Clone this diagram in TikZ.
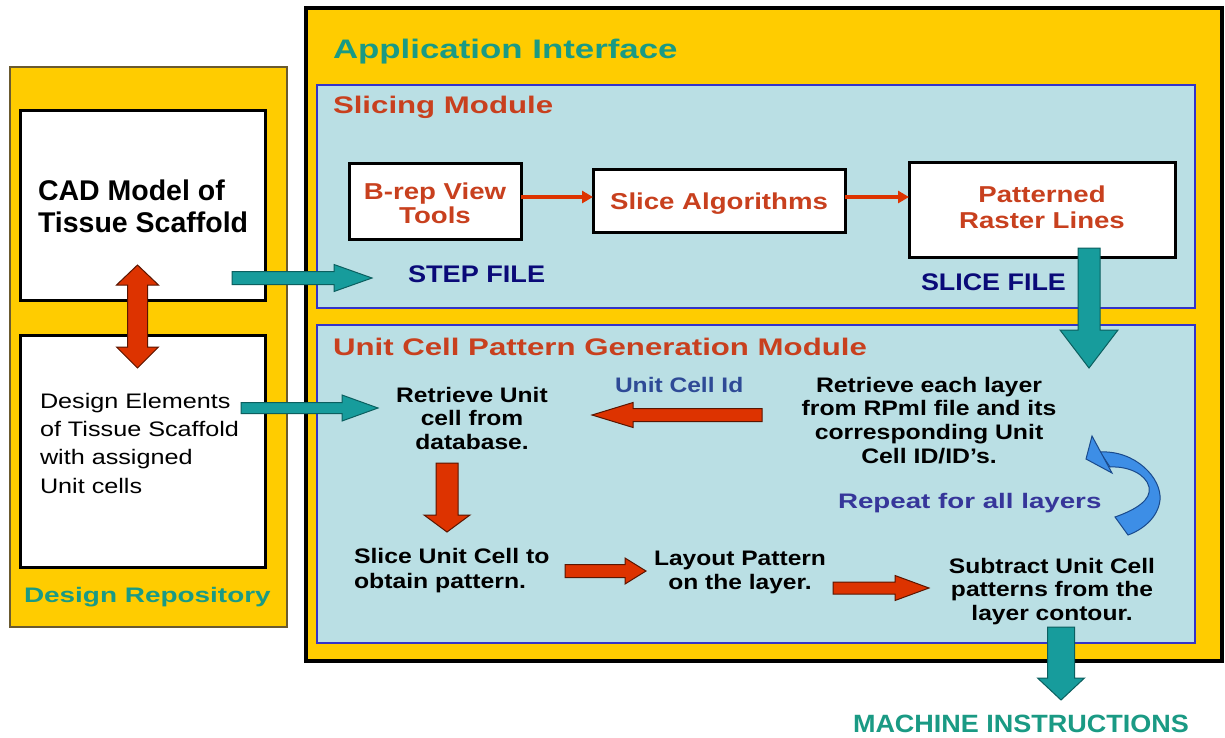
\documentclass[tikz,border=0pt]{standalone}
\usepackage{fontspec}
\setmainfont{Liberation Sans}
\usepackage{graphicx}
\usetikzlibrary{arrows.meta,calc}
\definecolor{gold}{HTML}{FFCC00}
\definecolor{lblue}{HTML}{BADFE4}
\definecolor{modborder}{HTML}{3434C8}
\definecolor{tealtxt}{HTML}{1A9A84}
\definecolor{redtxt}{HTML}{C8401E}
\definecolor{navy}{HTML}{0A0A78}
\definecolor{idblue}{HTML}{2E4A96}
\definecolor{reptxt}{HTML}{36369A}
\definecolor{tealA}{HTML}{179C9C}
\definecolor{tealD}{HTML}{0B5F5F}
\definecolor{redA}{HTML}{DD3300}
\definecolor{redD}{HTML}{5A1500}
\definecolor{curvA}{HTML}{3D8EE6}
\definecolor{curvD}{HTML}{1A4A8C}
\definecolor{repoedge}{HTML}{6A5A30}
\newcommand\tb[3]{\scalebox{#1}[1]{\begin{tabular}[t]{@{}#2@{}}#3\end{tabular}}}
% block arrow: style, from, to, shaft half width, head half width, head length
\newcommand\blockarrow[6]{%
  \path let \p1=(#2), \p2=(#3), \n1={atan2(\y2-\y1,\x2-\x1)}, \n2={veclen(\x2-\x1,\y2-\y1)} in
    \pgfextra{\xdef\baang{\n1}\xdef\balen{\n2}};
  \begin{scope}[shift={(#2)}, rotate=\baang]
    \filldraw[#1] (0,#4) -- ({\balen-#6},#4) -- ({\balen-#6},#5) -- (\balen,0)
      -- ({\balen-#6},-#5) -- ({\balen-#6},-#4) -- (0,-#4) -- cycle;
  \end{scope}}
\tikzset{
  box/.style={rectangle, inner sep=0pt, outer sep=0pt},
  whitebox/.style={box, fill=white, draw=black, line width=3pt},
  modbox/.style={box, fill=lblue, draw=modborder, line width=2.6pt},
  txt/.style={inner sep=0pt, outer sep=0pt},
  thinarrow/.style={draw=redA, line width=3.5pt, -{Triangle[length=11pt,width=12pt]}},
  tealarr/.style={fill=tealA, draw=tealD, line width=1pt},
  redarr/.style={fill=redA, draw=redD, line width=1pt},
}
\begin{document}
\begin{tikzpicture}[x=1pt,y=-1pt]
\useasboundingbox (0,0) rectangle (1225,737);
\fill[white] (0,0) rectangle (1225,737);
% containers
\node[box, fill=gold, draw=repoedge, line width=1.2pt, minimum width=277pt, minimum height=560pt] (repo) at (148.5,347) {};
\node[whitebox, minimum width=245pt, minimum height=190pt] (cad) at (142.5,205) {};
\node[whitebox, minimum width=245pt, minimum height=232pt] (de) at (142.5,451) {};
\node[box, fill=gold, draw=black, line width=3.5pt, minimum width=916pt, minimum height=653pt] (ai) at (764,334.5) {};
\node[modbox, minimum width=878pt, minimum height=223pt] (slicing) at (756,196.5) {};
\node[modbox, minimum width=878pt, minimum height=318pt] (ucpg) at (756,484) {};
\node[whitebox, minimum width=172pt, minimum height=76pt] (brep) at (435,201) {};
\node[whitebox, minimum width=252pt, minimum height=63pt] (slice) at (719,200.5) {};
\node[whitebox, minimum width=266pt, minimum height=95pt] (patt) at (1042,209.5) {};
% texts
\node[txt, anchor=base west, text=tealtxt, font=\fontsize{26.8}{30}\selectfont\bfseries] (tai) at (333,58) {\tb{1.3}{l}{Application Interface}};
\node[txt, anchor=base west, text=redtxt, font=\fontsize{24}{28}\selectfont\bfseries] (tslm) at (333,113) {\tb{1.3}{l}{Slicing Module}};
\node[txt, anchor=base west, text=redtxt, font=\fontsize{24}{28}\selectfont\bfseries] (tucm) at (333,355) {\tb{1.3}{l}{Unit Cell Pattern Generation Module}};
\node[txt, anchor=base west, text=black, font=\fontsize{28.5}{32}\selectfont\bfseries] (tcad) at (38,200) {\tb{1}{l}{CAD Model of\\Tissue Scaffold}};
\node[txt, anchor=base, text=redtxt, font=\fontsize{23}{24}\selectfont\bfseries] (tbrep) at (435,199) {\tb{1.2}{c}{B-rep View\\Tools}};
\node[txt, anchor=base, text=redtxt, font=\fontsize{23}{24}\selectfont\bfseries] (tslice) at (719,209) {\tb{1.2}{c}{Slice Algorithms}};
\node[txt, anchor=base, text=redtxt, font=\fontsize{23}{26}\selectfont\bfseries] (tpatt) at (1042,202) {\tb{1.2}{c}{Patterned\\Raster Lines}};
\node[txt, anchor=base west, text=navy, font=\fontsize{24}{28}\selectfont\bfseries] (tstep) at (408,282) {\tb{1.13}{l}{STEP FILE}};
\node[txt, anchor=base west, text=navy, font=\fontsize{24}{28}\selectfont\bfseries] (tslf) at (921,290) {\tb{1.12}{l}{SLICE FILE}};
\node[txt, anchor=base west, text=black, font=\fontsize{21}{28.4}\selectfont] (tde) at (40,408) {\tb{1.2}{l}{Design Elements\\of Tissue Scaffold\\with assigned\\Unit cells}};
\node[txt, anchor=base west, text=tealtxt, font=\fontsize{21}{24}\selectfont\bfseries] (trepo) at (24,602) {\tb{1.33}{l}{Design Repository}};
\node[txt, anchor=base, text=black, font=\fontsize{21}{23.5}\selectfont\bfseries] (tret) at (472,402) {\tb{1.17}{c}{Retrieve Unit\\cell from\\database.}};
\node[txt, anchor=base west, text=idblue, font=\fontsize{21}{24}\selectfont\bfseries] (tucid) at (615,392) {\tb{1.17}{l}{Unit Cell Id}};
\node[txt, anchor=base, text=black, font=\fontsize{21}{23.7}\selectfont\bfseries] (trel) at (929,392) {\tb{1.18}{c}{Retrieve each layer\\from RPml file and its\\corresponding Unit\\Cell ID/ID’s.}};
\node[txt, anchor=base west, text=reptxt, font=\fontsize{21}{24}\selectfont\bfseries] (trep) at (838,508) {\tb{1.32}{l}{Repeat for all layers}};
\node[txt, anchor=base west, text=black, font=\fontsize{21}{25}\selectfont\bfseries] (tsuc) at (354,563) {\tb{1.18}{l}{Slice Unit Cell to\\obtain pattern.}};
\node[txt, anchor=base, text=black, font=\fontsize{21}{24}\selectfont\bfseries] (tlay) at (740,565) {\tb{1.17}{c}{Layout Pattern\\on the layer.}};
\node[txt, anchor=base, text=black, font=\fontsize{21}{23.5}\selectfont\bfseries] (tsub) at (1052,573) {\tb{1.17}{c}{Subtract Unit Cell\\patterns from the\\layer contour.}};
\node[txt, anchor=base west, text=tealtxt, font=\fontsize{25}{28}\selectfont\bfseries] (tmach) at (853,732) {\tb{1.08}{l}{MACHINE INSTRUCTIONS}};
% thin arrows
\coordinate (ya) at (0,197);
\coordinate (yb) at (0,197);
\draw[thinarrow] (brep.east |- ya) -- (slice.west |- ya);
\draw[thinarrow] (slice.east |- yb) -- (patt.west |- yb);
% block arrows
\coordinate (a1s) at (232,278);   \coordinate (a1e) at (372,278);
\coordinate (a2s) at (241,408);   \coordinate (a2e) at (378,408);
\coordinate (a3s) at (1089,248);  \coordinate (a3e) at (1089,368);
\coordinate (a4s) at (1061,627);  \coordinate (a4e) at (1061,700);
\coordinate (r1s) at (762,415);   \coordinate (r1e) at (592,415);
\coordinate (r2s) at (447,463);   \coordinate (r2e) at (447,532);
\coordinate (r3s) at (565,571);   \coordinate (r3e) at (646,571);
\coordinate (r4s) at (833,588);   \coordinate (r4e) at (929,588);
\blockarrow{tealarr}{a1s}{a1e}{6.5}{13.5}{38}
\blockarrow{tealarr}{a2s}{a2e}{5.5}{13}{36}
\blockarrow{tealarr}{a3s}{a3e}{11}{29}{38}
\blockarrow{tealarr}{a4s}{a4e}{13.5}{23.5}{22}
\blockarrow{redarr}{r1s}{r1e}{6.5}{12.5}{41}
\blockarrow{redarr}{r2s}{r2e}{11}{23}{17}
\blockarrow{redarr}{r3s}{r3e}{6.5}{13}{21}
\blockarrow{redarr}{r4s}{r4e}{6}{12.5}{34}
% double arrow between CAD model and design elements
\filldraw[redarr] (137.5,265) -- (158.5,285) -- (147.5,285) -- (147.5,347) -- (158.5,347)
  -- (137.5,368) -- (116.5,347) -- (127.5,347) -- (127.5,285) -- (116.5,285) -- cycle;
% curved repeat arrow
\filldraw[fill=curvA, draw=curvD, line width=1pt]
  (1100,452) .. controls (1135,450) and (1162,478) .. (1160,500)
  .. controls (1158,518) and (1142,530) .. (1128,535) -- (1115,517)
  .. controls (1135,510) and (1152,500) .. (1149,487)
  .. controls (1146,474) and (1128,466) .. (1110,467) -- cycle;
\filldraw[fill=curvA, draw=curvD, line width=1pt] (1092,436) -- (1086,459) -- (1112,473) -- cycle;
\end{tikzpicture}
\end{document}
